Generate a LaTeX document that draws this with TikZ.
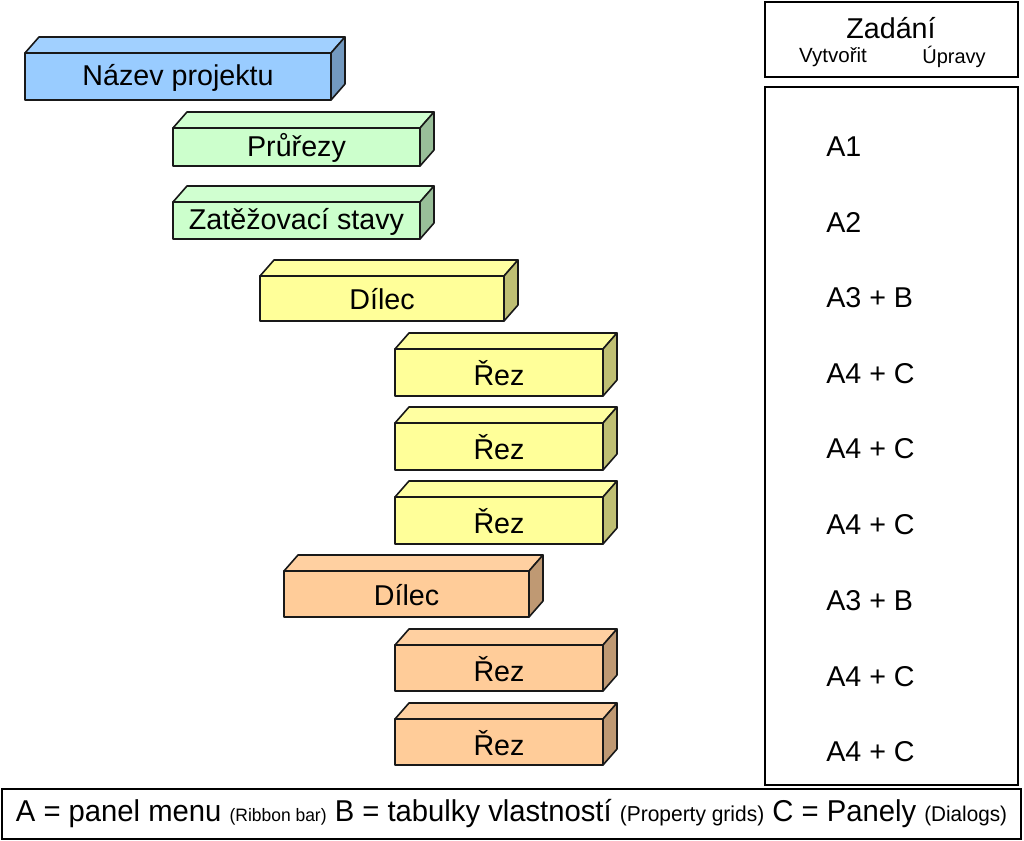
\documentclass[tikz,border=0pt]{standalone}
\usepackage{fontspec}
\setmainfont{Liberation Sans}
\usepackage{tikz}
\usetikzlibrary{positioning}
\definecolor{BlueFace}{RGB}{153,204,255}
\definecolor{GreenFace}{RGB}{204,255,204}
\definecolor{YellowFace}{RGB}{255,255,153}
\definecolor{OrangeFace}{RGB}{255,204,153}
\definecolor{EdgeGray}{RGB}{25,25,25}

\begin{document}
\begin{tikzpicture}[
    x=0.75pt, y=-0.75pt,
    every node/.style={inner sep=0pt},
    boxedge/.style={draw=EdgeGray, line width=1.2pt, line join=round},
    frame/.style={draw=black, line width=1.5pt},
    boxlabel/.style={font=\fontsize{21.5}{25}\selectfont},
    tasklabel/.style={font=\fontsize{21.5}{25}\selectfont, anchor=west},
]
\useasboundingbox (0,0) rectangle (1024,841);

% 3D bars: name/left/right/top/bottom/colour/label
\foreach \nm/\l/\r/\t/\b/\col/\txt in {
    projekt/25/331/53/100/BlueFace/Název projektu,
    prurezy/173/420/128/166/GreenFace/Průřezy,
    stavy/173/420/202/239/GreenFace/Zatěžovací stavy,
    dilecA/260/504/276/321/YellowFace/Dílec,
    rezA/395/603/349/396/YellowFace/Řez,
    rezB/395/603/423/470/YellowFace/Řez,
    rezC/395/603/497/544/YellowFace/Řez,
    dilecB/284/529/571/617/OrangeFace/Dílec,
    rezD/395/603/645/691/OrangeFace/Řez,
    rezE/395/603/719/765/OrangeFace/Řez}{
  \draw[boxedge, fill=\col!92!white] (\l,\t) -- (\l+14,\t-16) -- (\r+14,\t-16) -- (\r,\t) -- cycle;
  \draw[boxedge, fill=\col!75!black] (\r,\t) -- (\r+14,\t-16) -- (\r+14,\b-16) -- (\r,\b) -- cycle;
  \draw[boxedge, fill=\col] (\l,\t) rectangle (\r,\b);
  \node[boxlabel] (\nm) at ({(\l+\r)/2},{(\t+\b)/2+1}) {\txt};
}

% task column
\draw[frame] (765,2) rectangle (1018,77);
\node[font=\fontsize{21.5}{25}\selectfont] (zadani) at (891,28) {Zadání};
\node[font=\fontsize{15.4}{18}\selectfont] (vytvorit) at (833,57) {Vytvořit};
\node[font=\fontsize{15}{18}\selectfont] (upravy) at (954,57) {Úpravy};

\draw[frame] (765,87) rectangle (1018,785);
\foreach \nm/\y/\txt in {a1/147/A1, a2/222/A2, a3/298/A3 + B, a4/374/A4 + C,
    a5/449/A4 + C, a6/525/A4 + C, a7/601/A3 + B, a8/677/A4 + C, a9/752/A4 + C}
  \node[tasklabel] (\nm) at (826,\y) {\txt};

% legend
\draw[frame] (2,789) rectangle (1021,839);
\node (legenda) at (511.5,814) {\scalebox{0.97}[1]{\fontsize{22.6}{26}\selectfont
    A = panel menu {\fontsize{13.5}{16}\selectfont(Ribbon bar)}
    B = tabulky vlastností {\fontsize{16.2}{19}\selectfont(Property grids)}
    C = Panely {\fontsize{16}{19}\selectfont(Dialogs)}}};
\end{tikzpicture}
\end{document}
